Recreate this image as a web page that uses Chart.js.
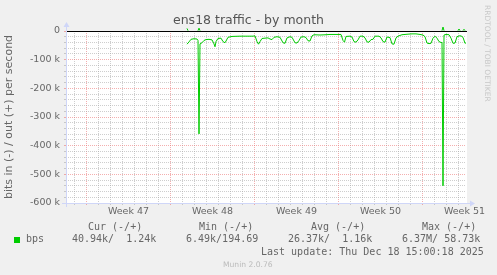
<!DOCTYPE html>
<html>
<head>
<meta charset="utf-8">
<script src="https://cdn.jsdelivr.net/npm/chart.js@4.4.1/dist/chart.umd.min.js"></script>
<style>
html,body{margin:0;padding:0;background:#f0f0f0;}
#wrap{position:relative;width:497px;height:275px;overflow:hidden;background:#f0f0f0;}
canvas{position:absolute;left:0;top:0;}
.t{position:absolute;white-space:pre;font-family:'DejaVu Sans Mono',monospace;font-size:10px;line-height:12px;color:#666;}
.m{position:absolute;white-space:pre;font-family:'DejaVu Sans',sans-serif;font-size:7.6px;line-height:9px;color:#bbb;}
.r{position:absolute;white-space:pre;font-family:'DejaVu Sans',sans-serif;font-size:7.5px;line-height:9px;color:#c8c8c8;writing-mode:vertical-rl;}
.sq{position:absolute;width:6px;height:6px;background:#00cc00;}
</style>
</head>
<body>
<div id="wrap">
<canvas id="c" width="497" height="275"></canvas>
<div class="t" style="left:88px;top:221px">Cur (-/+)</div>
<div class="t" style="left:199px;top:221px">Min (-/+)</div>
<div class="t" style="left:311px;top:221px">Avg (-/+)</div>
<div class="t" style="left:422px;top:221px">Max (-/+)</div>
<div class="sq" style="left:14px;top:237px"></div>
<div class="t" style="left:26px;top:233px">bps</div>
<div class="t" style="left:72px;top:233px">40.94k/  1.24k</div>
<div class="t" style="left:186px;top:233px">6.49k/194.69</div>
<div class="t" style="left:288px;top:233px">26.37k/  1.16k</div>
<div class="t" style="left:402px;top:233px">6.37M/ 58.73k</div>
<div class="t" style="left:261px;top:246px">Last update: Thu Dec 18 15:00:18 2025</div>
<div class="m" style="left:223px;top:259.5px">Munin 2.0.76</div>
<div class="r" style="left:482.5px;top:4.5px">RRDTOOL / TOBI OETIKER</div>
</div>
<script>
// Time axis: hours since graph start (Sat Nov 15 2025 07:00), 800 h = 33.3 days
const rangeHours = 800;
const firstMidnightHour = 17;      // Nov 16 00:00
const firstMondayHour = 41;        // Mon Nov 17 00:00 (start of Week 47)
const weekLabels = ['Week 47', 'Week 48', 'Week 49', 'Week 50', 'Week 51'];
const weekCenterHours = [125, 293, 461, 629, 797];

// bits in (negative, kbit/s)
const inHours = [
  242,246,250,256,262,264,266,268,272,276,
  280,286,292,296,298,300,304,310,314,318,
  320,324,332,348,364,374,378,382,385,388,
  392,398,404,408,412,416,422,428,434,438,
  442,448,452,458,462,466,470,476,480,484,
  488,492,496,508,520,528,540,550,554,557,
  560,568,572,576,580,584,588,594,598,602,
  606,610,614,618,626,630,634,638,642,648,
  652,656,660,664,672,684,692,700,708,714,
  718,722,726,730,734,738,742,746,750,752,
  754,756,760,766,770,774,778,782,786,790,
  794,798,800
];
const inKbps = [
  -46,-38,-29,-27,-28,-33,-359,-45,-41,-33,
  -30,-29,-31,-45,-55,-37,-26,-25,-37,-41,
  -35,-22,-19,-18,-18,-18,-17,-37,-46,-37,
  -26,-25,-24,-28,-30,-22,-20,-22,-41,-43,
  -24,-20,-22,-41,-42,-33,-21,-20,-23,-34,
  -35,-17,-13,-14,-13,-12,-12,-12,-33,-39,
  -19,-18,-21,-37,-39,-31,-18,-18,-24,-38,
  -39,-30,-29,-18,-18,-24,-37,-39,-21,-23,
  -45,-46,-24,-18,-13,-11,-10,-10,-12,-14,
  -20,-42,-44,-43,-25,-18,-25,-37,-40,-40,
  -540,-14,-12,-13,-25,-43,-42,-20,-17,-17,
  -22,-43,-41
];

// bits out (positive, kbit/s)
const outHours = [242,244,264,266,268,400,500,600,700,752,754,756,784,786,788,794,796,798,800];
const outKbps  = [9,1.2,1.2,10,1.2,1.1,1.0,1.2,1.1,1.2,14,1.2,1.2,7,1.2,1.2,6,1.2,1.24];

const GREEN = '#00cc00';
const GRID = 'rgba(165,165,165,0.55)';
const MGRID = 'rgba(235,110,110,0.55)';
const NONE = 'rgba(0,0,0,0)';

const xTickHours = [];
for (let h = firstMidnightHour; h < rangeHours; h += 24) xTickHours.push(h);
weekCenterHours.forEach(h => xTickHours.push(h));
xTickHours.sort((a, b) => a - b);

function xGridColor(c) {
  const v = c.tick ? c.tick.value : null;
  if (v === null || weekCenterHours.includes(v)) return NONE;
  return ((v - firstMondayHour) % 168 === 0) ? MGRID : GRID;
}
function yGridColor(c) {
  const v = c.tick ? c.tick.value : 0;
  return (v % 100000 === 0) ? MGRID : GRID;
}

const muninDecor = {
  id: 'muninDecor',
  beforeDraw(chart) {
    const {ctx, chartArea: a} = chart;
    ctx.save();
    ctx.fillStyle = '#ffffff';
    ctx.fillRect(a.left, a.top, a.right - a.left + 1, a.bottom - a.top + 1);
    ctx.restore();
  },
  afterDatasetsDraw(chart) {
    const {ctx, chartArea: a, scales} = chart;
    ctx.save();
    ctx.lineWidth = 1;
    // zero rule
    const y0 = Math.round(scales.y.getPixelForValue(0)) + 0.5;
    ctx.strokeStyle = '#000000';
    ctx.beginPath(); ctx.moveTo(a.left, y0); ctx.lineTo(a.right + 1, y0); ctx.stroke();
    // axes with arrows
    const ax = Math.round(a.left) + 0.5, ay = Math.round(a.bottom) + 0.5;
    ctx.strokeStyle = '#CFD6F8'; ctx.fillStyle = '#CFD6F8';
    ctx.beginPath(); ctx.moveTo(ax, a.bottom + 4); ctx.lineTo(ax, a.top - 4); ctx.stroke();
    ctx.beginPath(); ctx.moveTo(a.left - 4, ay); ctx.lineTo(a.right + 4, ay); ctx.stroke();
    ctx.beginPath(); ctx.moveTo(ax - 3, a.top - 4); ctx.lineTo(ax + 3, a.top - 4); ctx.lineTo(ax, a.top - 9); ctx.closePath(); ctx.fill();
    ctx.beginPath(); ctx.moveTo(a.right + 4, ay - 3); ctx.lineTo(a.right + 4, ay + 3); ctx.lineTo(a.right + 9, ay); ctx.closePath(); ctx.fill();
    ctx.restore();
  }
};

new Chart(document.getElementById('c'), {
  type: 'line',
  data: {
    datasets: [
      {
        label: 'bps out',
        data: outHours.map((h, i) => ({x: h, y: outKbps[i] * 1000})),
        borderColor: GREEN, borderWidth: 1, pointRadius: 0, tension: 0, fill: false,
        // near-zero stretches sit under the zero rule in the original, only the bumps show
        segment: {borderColor: s => (s.p0.parsed.y < 3000 && s.p1.parsed.y < 3000) ? NONE : GREEN},
        clip: {left: 0, top: 4, right: 0, bottom: 0}
      },
      {
        label: 'bps in',
        data: inHours.map((h, i) => ({x: h, y: inKbps[i] * 1000})),
        borderColor: GREEN, borderWidth: 1, pointRadius: 0, tension: 0, fill: false,
        clip: {left: 0, top: 4, right: 0, bottom: 0}
      }
    ]
  },
  options: {
    responsive: false,
    animation: false,
    devicePixelRatio: 1,
    layout: {padding: {left: 0, right: 0, top: 0, bottom: 50}},
    plugins: {
      legend: {display: false},
      tooltip: {enabled: false},
      title: {
        display: true, text: 'ens18 traffic - by month', color: '#555',
        font: {family: 'DejaVu Sans', size: 12.5, weight: 'normal', lineHeight: 1.2},
        padding: {top: 13, bottom: 3}
      }
    },
    scales: {
      x: {
        type: 'linear', min: 0, max: rangeHours,
        afterBuildTicks(s) { s.ticks = xTickHours.map(v => ({value: v})); },
        afterFit(s) { s.height = 22; },
        ticks: {
          autoSkip: false, maxRotation: 0, minRotation: 0, padding: 1, color: '#666',
          font: {family: 'DejaVu Sans', size: 9.5},
          callback(v) { const i = weekCenterHours.indexOf(v); return i >= 0 ? weekLabels[i] : ''; }
        },
        grid: {color: xGridColor, tickColor: xGridColor, tickLength: 2, lineWidth: 1},
        border: {display: false, dash: [1, 1]}
      },
      y: {
        min: -600000, max: 0,
        afterBuildTicks(s) { const t = []; for (let v = -600000; v <= 0; v += 20000) t.push({value: v}); s.ticks = t; },
        afterFit(s) { s.width = 66; },
        ticks: {
          autoSkip: false, padding: 4, color: '#666',
          font: {family: 'DejaVu Sans', size: 9.5},
          callback(v) { return v % 100000 === 0 ? (v === 0 ? '0' : (v / 1000) + ' k') : ''; }
        },
        grid: {color: yGridColor, tickColor: yGridColor, tickLength: 2, lineWidth: 1},
        border: {display: false, dash: [1, 1]},
        title: {
          display: true, text: 'bits in (-) / out (+) per second', color: '#666',
          font: {family: 'DejaVu Sans', size: 11}, padding: {top: 3, bottom: 0}
        }
      },
      yR: {
        position: 'right', display: true,
        grid: {display: false}, ticks: {display: false}, border: {display: false},
        afterFit(s) { s.width = 31; }
      }
    }
  },
  plugins: [muninDecor]
});
</script>
</body>
</html>
